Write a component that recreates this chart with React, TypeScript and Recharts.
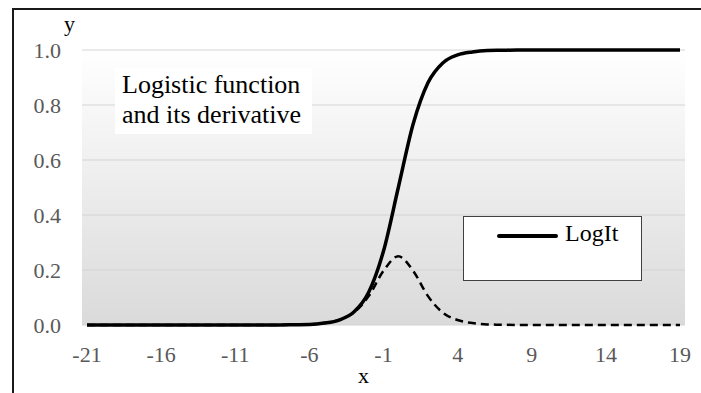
import React from 'react'
import {CartesianGrid, Legend, Line, LineChart, XAxis, YAxis} from 'recharts'

const xValues = [-21, -20, -19, -18, -17, -16, -15, -14, -13, -12, -11, -10, -9, -8, -7, -6, -5, -4, -3, -2, -1, 0, 1, 2, 3, 4, 5, 6, 7, 8, 9, 10, 11, 12, 13, 14, 15, 16, 17, 18, 19]

const logit = [0, 0, 0, 0, 0, 0, 0, 0, 0, 0, 0, 0, 0, 0, 0.001, 0.002, 0.007, 0.018, 0.047, 0.119, 0.269, 0.5, 0.731, 0.881, 0.953, 0.982, 0.993, 0.998, 0.999, 1, 1, 1, 1, 1, 1, 1, 1, 1, 1, 1, 1]

const derivative = [0, 0, 0, 0, 0, 0, 0, 0, 0, 0, 0, 0, 0, 0, 0.001, 0.002, 0.007, 0.018, 0.045, 0.105, 0.197, 0.25, 0.197, 0.105, 0.045, 0.018, 0.007, 0.002, 0.001, 0, 0, 0, 0, 0, 0, 0, 0, 0, 0, 0, 0]

const yTicks = [0, 0.2, 0.4, 0.6, 0.8, 1.0]

const data = xValues.map((x, i) => ({x, LogIt: logit[i], deriv: derivative[i]}))

const serif = 'Liberation Serif'

function LegendBox(props: any) {
  const items = (props.payload || []).filter((p: any) => p.value === 'LogIt')
  return (
    <div style={{width: 179, height: 65, background: '#fff', border: '1.5px solid #404040', boxSizing: 'border-box', position: 'relative'}}>
      {items.map((p: any) => (
        <React.Fragment key={p.value}>
          <div style={{position: 'absolute', left: 33, top: 17, width: 61, height: 4, background: '#000', borderRadius: 2}} />
          <span style={{position: 'absolute', left: 101, top: 3, fontFamily: serif, fontSize: 24, color: '#000', whiteSpace: 'nowrap'}}>{p.value}</span>
        </React.Fragment>
      ))}
    </div>
  )
}

export default function App() {
  return (
    <div style={{position: 'absolute', left: 0, top: 0, width: 701, height: 393, background: '#fff', overflow: 'hidden'}}>
      <div style={{position: 'absolute', left: 12, top: 8, width: 720, height: 420, borderTop: '2px solid #1a1a1a', borderLeft: '2px solid #1a1a1a'}} />
      <LineChart width={701} height={393} data={data} margin={{top: 50, right: 16, bottom: 0, left: 0}} style={{position: 'absolute', left: 0, top: 0}}>
        <defs>
          <linearGradient id="bg" x1="0" y1="0" x2="0" y2="1">
            <stop offset="0%" stopColor="#ffffff" />
            <stop offset="100%" stopColor="#dadada" />
          </linearGradient>
        </defs>
        <CartesianGrid vertical={false} stroke="#d4d4d4" fill="url(#bg)" />
        <XAxis dataKey="x" interval={4} tickLine={false} axisLine={false} height={68} tickMargin={15}
          padding={{left: 5, right: 5}} tick={{fill: '#595959', fontSize: 22, fontFamily: serif}} />
        <YAxis domain={[0, 1]} ticks={yTicks} width={82} tickLine={false} axisLine={false} tickMargin={15}
          tickFormatter={(v: number) => v.toFixed(1)} tick={{fill: '#595959', fontSize: 22, fontFamily: serif}} />
        <Legend layout="horizontal" verticalAlign="middle" align="center" content={<LegendBox />}
          wrapperStyle={{left: 463, top: 216, width: 179}} />
        <Line dataKey="LogIt" type="monotone" stroke="#000" strokeWidth={3.5} dot={false} isAnimationActive={false} />
        <Line dataKey="deriv" type="monotone" stroke="#000" strokeWidth={2.5} strokeDasharray="8 5" dot={false} legendType="none" isAnimationActive={false} />
      </LineChart>
      <div style={{position: 'absolute', left: 115, top: 68, width: 197, height: 66, background: '#fff', fontFamily: serif, fontSize: 26, lineHeight: '30px', color: '#000', paddingLeft: 7, paddingTop: 1.5, boxSizing: 'border-box', whiteSpace: 'nowrap'}}>
        Logistic function<br />and its derivative
      </div>
      <div style={{position: 'absolute', left: 64, top: 11, fontFamily: serif, fontSize: 22, color: '#000'}}>y</div>
      <div style={{position: 'absolute', left: 358, top: 363, fontFamily: serif, fontSize: 22, color: '#000'}}>x</div>
    </div>
  )
}
